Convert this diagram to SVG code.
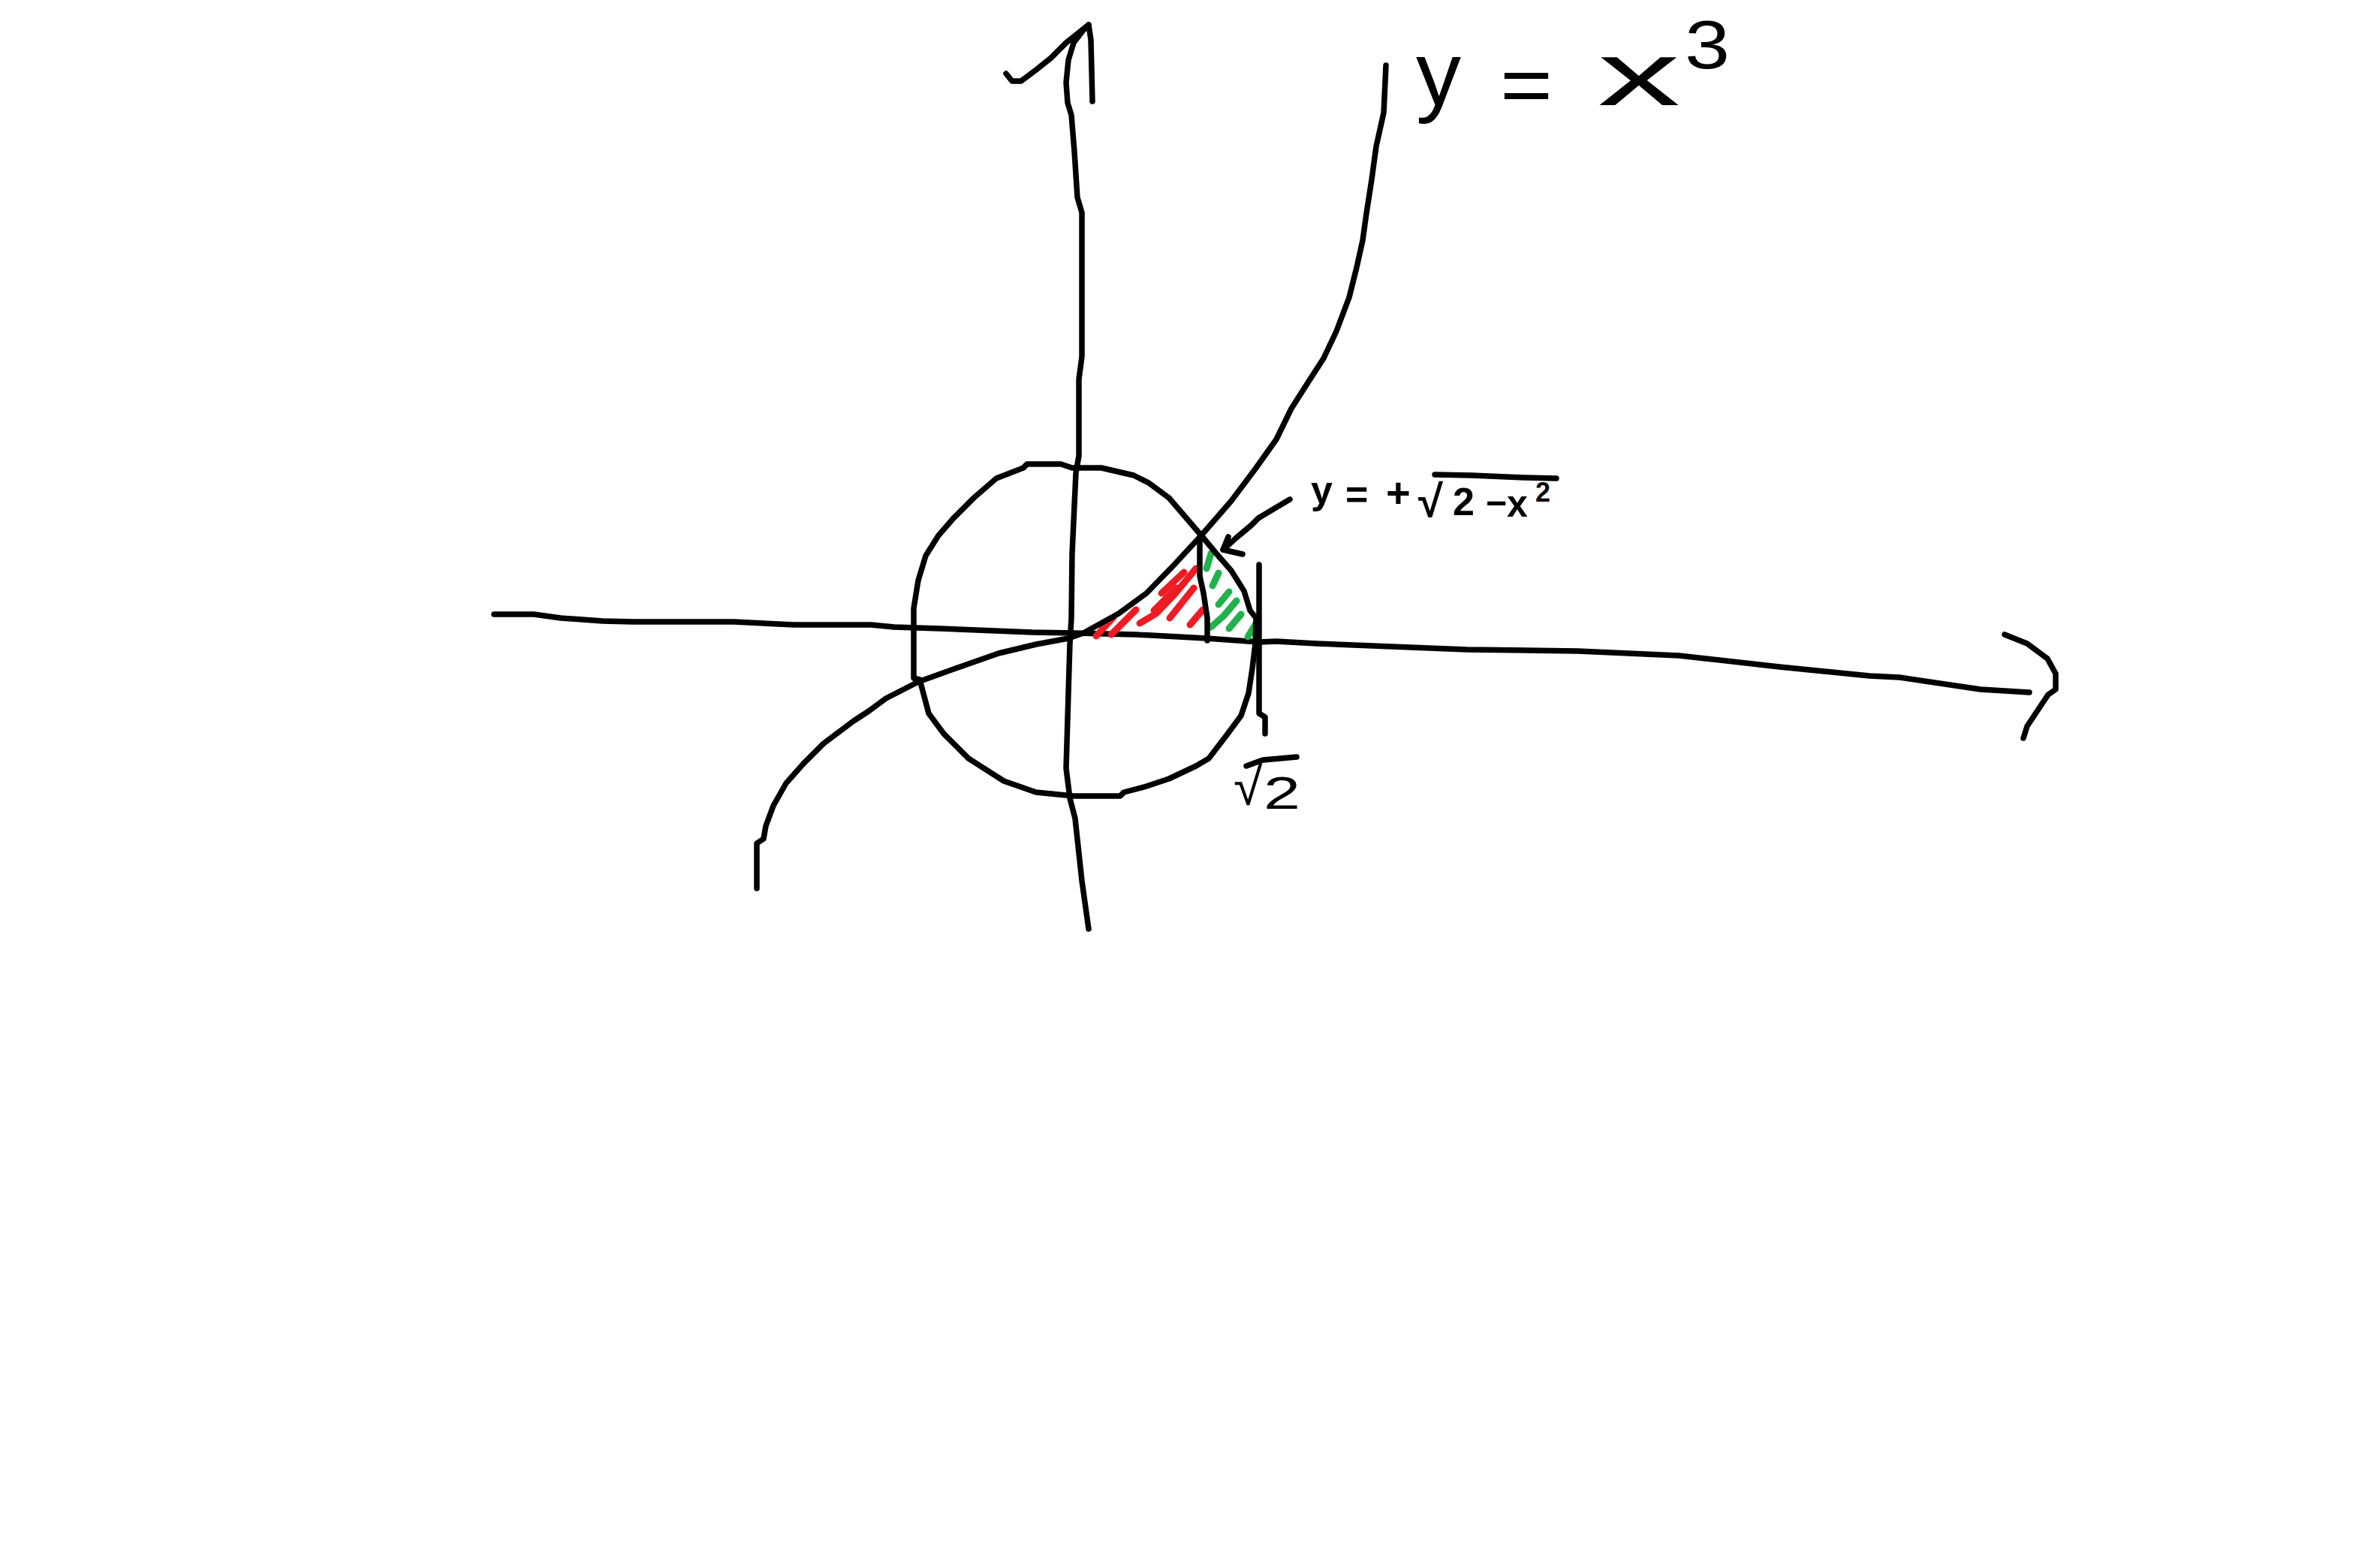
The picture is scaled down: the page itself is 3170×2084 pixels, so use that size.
<svg xmlns="http://www.w3.org/2000/svg" width="3170" height="2084" viewBox="0 0 3170 2084">
<style>
.ink{fill:none;stroke:#000;stroke-width:7.5;stroke-linecap:round;stroke-linejoin:round}
.red{fill:none;stroke:#ED1C24;stroke-width:9;stroke-linecap:round;stroke-linejoin:round}
.grn{fill:none;stroke:#22B14C;stroke-width:9;stroke-linecap:round;stroke-linejoin:round}
.lbl{font-family:"Liberation Sans",Arial,sans-serif;fill:#000}
.b{font-weight:bold}
</style>
<rect width="3170" height="2084" fill="#fff"/>
<g id="axes">
<path id="y-axis" class="ink" d="M1450,33 L1443,40 L1430,57 L1423,80 L1420,110 L1422,137 L1427,153 L1431,202 L1435,263 L1441,283 L1441,344 L1441,475 L1437,505 L1437,607 L1433,630 L1428,737 L1427,823 L1425,857 L1420,1023 L1425,1063 L1432,1090 L1441,1173 L1450,1237"/>
<path id="y-arrow" class="ink" d="M1340,98 L1348,108 L1360,108 L1380,93 L1400,77 L1420,57 L1450,33 L1453,53 L1455,135"/>
<path id="x-axis" class="ink" d="M658,818 L711,818 L747,823 L803,827 L844,828 L977,828 L1058,832 L1160,832 L1191,835 L1252,837 L1375,842 L1431,843 L1513,845 L1607,850 L1677,855 L1700,854 L1754,857 L1954,865 L2102,867 L2236,873 L2370,888 L2490,900 L2530,902 L2638,918 L2703,922"/>
<path id="x-arrow" class="ink" d="M2670,845 L2700,857 L2727,877 L2738,897 L2738,918 L2728,925 L2700,967 L2695,983"/>
</g>
<g id="hatching">
<path class="red" d="M1460,847 L1483,822"/>
<path class="red" d="M1480,845 L1513,812"/>
<path class="red" d="M1518,830 L1540,817 L1563,793 L1593,757"/>
<path class="red" d="M1547,790 L1577,762"/>
<path class="red" d="M1537,813 L1567,783"/>
<path class="red" d="M1558,823 L1590,783"/>
<path class="red" d="M1585,832 L1602,812"/>
<path class="grn" d="M1607,757 L1613,737"/>
<path class="grn" d="M1615,780 L1623,763"/>
<path class="grn" d="M1623,805 L1637,788"/>
<path class="grn" d="M1613,835 L1630,820 L1647,800"/>
<path class="grn" d="M1637,837 L1653,818"/>
<path class="grn" d="M1662,848 L1673,830"/>
</g>
<g id="curves">
<path id="circle" class="ink" d="M1368,618 L1413,618 L1428,623 L1467,623 L1510,633 L1530,643 L1557,663 L1600,713 L1620,737 L1640,760 L1657,787 L1665,813 L1673,823 L1672,857 L1668,890 L1663,923 L1653,953 L1633,980 L1610,1010 L1593,1020 L1557,1037 L1527,1047 L1497,1055 L1492,1060 L1430,1060 L1380,1055 L1337,1040 L1290,1010 L1257,977 L1237,950 L1225,905 L1217,903 L1217,810 L1223,773 L1233,740 L1250,713 L1270,690 L1297,663 L1327,637 L1363,623 Z"/>
<path id="cubic" class="ink" d="M1008,1183 L1008,1123 L1017,1117 L1020,1100 L1030,1073 L1047,1043 L1070,1017 L1097,990 L1137,960 L1157,947 L1180,930 L1223,908 L1273,890 L1330,870 L1380,858 L1423,850 L1443,843 L1490,817 L1527,790 L1563,753 L1600,713 L1640,667 L1673,623 L1700,585 L1720,544 L1743,508 L1763,477 L1780,441 L1797,396 L1807,356 L1815,320 L1820,284 L1827,239 L1833,195 L1843,150 L1846,87"/>
<path id="x-intersect" class="ink" d="M1598,715 L1598,767 L1603,790 L1608,823 L1608,853"/>
<path id="x-sqrt2" class="ink" d="M1677,752 L1677,950 L1685,955 L1685,977"/>
</g>
<g id="connectors">
<path id="pointer" class="ink" d="M1718,665 L1701,675 L1676,690 L1666,700 L1648,715 L1629,732"/>
<path id="pointer-head" class="ink" d="M1636,715 L1629,732 L1655,738"/>
</g>
<g id="label-cubic">
<text class="lbl" x="1886" y="140" font-size="120">y</text>
<text class="lbl" x="1998" y="150" font-size="110" textLength="70" lengthAdjust="spacingAndGlyphs">=</text>
<text class="lbl" x="2128" y="140" font-size="120" textLength="110" lengthAdjust="spacingAndGlyphs">x</text>
<text class="lbl" x="2244" y="91" font-size="90" textLength="60" lengthAdjust="spacingAndGlyphs">3</text>
</g>
<g id="label-circle">
<text class="lbl b" x="1746" y="670" font-size="52">y</text>
<text class="lbl b" x="1792" y="676" font-size="52">=</text>
<text class="lbl b" x="1846" y="675" font-size="56">+</text>
<text class="lbl b" x="1889" y="688" font-size="60">√</text>
<path class="ink" d="M1911,632 L1960,633 L2030,636 L2073,637"/>
<text class="lbl b" x="1935" y="686" font-size="52">2</text>
<text class="lbl b" x="1979" y="686" font-size="48">−</text>
<text class="lbl b" x="2007" y="688" font-size="50">x</text>
<text class="lbl b" x="2045" y="668" font-size="36">2</text>
</g>
<g id="label-sqrt2">
<text class="lbl" x="1643" y="1072" font-size="70">√</text>
<path class="ink" d="M1660,1020 L1682,1012 L1727,1008"/>
<text class="lbl" x="1683" y="1077" font-size="62" textLength="49" lengthAdjust="spacingAndGlyphs">2</text>
</g>
</svg>
